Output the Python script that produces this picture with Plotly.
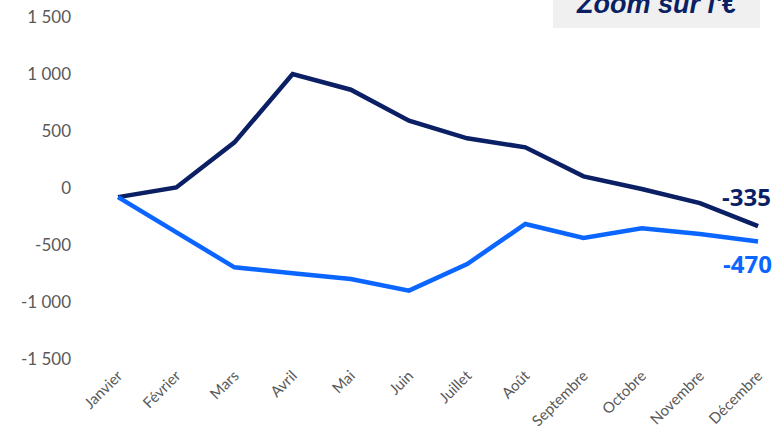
import plotly.graph_objects as go

months = ["Janvier", "Février", "Mars", "Avril", "Mai", "Juin", "Juillet",
          "Août", "Septembre", "Octobre", "Novembre", "Décembre"]
serie_fonce = [-80, 5, 400, 1000, 862, 590, 436, 357, 102, -9, -132, -335]
serie_clair = [-80, -385, -696, -748, -798, -900, -667, -316, -438, -354, -403, -470]
y_tick_vals = [-1500, -1000, -500, 0, 500, 1000, 1500]
y_tick_text = ["-1 500", "-1 000", "-500", "0", "500", "1 000", "1 500"]
titre_zoom = "Zoom sur l'€"

DARK = "#0A1F64"
BLUE = "#0A66FF"
idx = list(range(len(months)))

L, R, T, B = 89, 5, 17, 71
PW, PH = 777 - L - R, 430 - T - B

fig = go.Figure()
fig.add_trace(go.Scatter(x=idx, y=serie_fonce, mode="lines",
                         line=dict(color=DARK, width=4.5), hoverinfo="skip"))
fig.add_trace(go.Scatter(x=idx, y=serie_clair, mode="lines",
                         line=dict(color=BLUE, width=4.5), hoverinfo="skip"))

fig.add_annotation(x=idx[-1], y=serie_fonce[-1], text=str(serie_fonce[-1]),
                   showarrow=False, xshift=-12, yshift=30, xanchor="center",
                   font=dict(family="Open Sans", size=24, color=DARK, weight="bold"))
fig.add_annotation(x=idx[-1], y=serie_clair[-1], text=str(serie_clair[-1]),
                   showarrow=False, xshift=-11, yshift=-22, xanchor="center",
                   font=dict(family="Open Sans", size=24, color=BLUE, weight="bold"))

fig.add_shape(type="rect", xref="paper", yref="paper",
              x0=(553 - L) / PW, x1=(760 - L) / PW,
              y0=(PH + T - 28) / PH, y1=(PH + T + 5) / PH,
              fillcolor="#F0F0F0", line=dict(width=0), layer="below")
fig.add_annotation(xref="paper", yref="paper", x=(656 - L) / PW,
                   y=(PH + T - 4) / PH, text=titre_zoom,
                   showarrow=False, yanchor="middle", xanchor="center",
                   font=dict(family="Liberation Sans", size=27, color=DARK,
                             weight="bold", style="italic"))

fig.update_layout(
    width=777, height=430,
    margin=dict(l=L, r=R, t=T, b=B, autoexpand=False),
    paper_bgcolor="white", plot_bgcolor="white",
    showlegend=False,
    font=dict(family="Lato", color="#595959"),
    xaxis=dict(range=[-0.5, -0.5 + PW / 58.18], tickmode="array", tickvals=idx,
               ticktext=months, tickangle=-45, showgrid=False, zeroline=False,
               showline=False, ticks="", ticklabelstandoff=4, automargin=False,
               tickfont=dict(size=15, color="#595959")),
    yaxis=dict(range=[-1500, 1500], tickmode="array", tickvals=y_tick_vals,
               ticktext=y_tick_text, showgrid=False, zeroline=False,
               showline=False, ticks="", automargin=False, ticklabelstandoff=17,
               tickfont=dict(size=17, color="#595959")),
)

fig.write_html("out.html", config={"displayModeBar": False},
               post_script="document.body.style.margin='0';document.body.style.overflow='hidden';")
